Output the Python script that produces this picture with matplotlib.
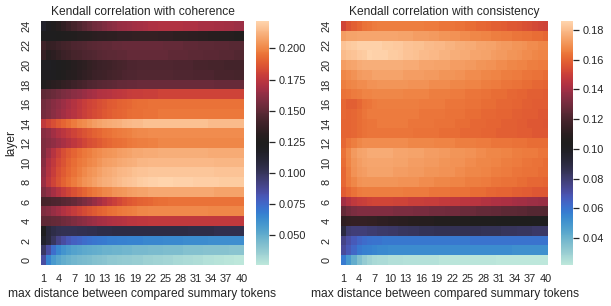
import numpy as np
import pandas as pd
import seaborn as sns
import matplotlib.pyplot as plt

# max distance between compared summary tokens (columns) and layers (rows)
distances = list(range(1, 41))
layers = list(range(25))

# Kendall correlation with coherence, one list per layer (0 -> 24)
coh_0 = [0.085,0.066,0.058,0.053,0.050,0.048,0.046,0.045,0.044,0.043,0.042,0.041,0.040,0.039,0.039,0.038,0.037,0.037,0.036,0.036,0.035,0.035,0.034,0.034,0.033,0.033,0.032,0.032,0.031,0.031,0.030,0.030,0.029,0.029,0.028,0.028,0.027,0.027,0.026,0.026]
coh_1 = [0.098,0.085,0.073,0.065,0.060,0.057,0.055,0.053,0.052,0.051,0.050,0.049,0.048,0.048,0.047,0.047,0.046,0.046,0.045,0.045,0.045,0.044,0.044,0.044,0.043,0.043,0.043,0.043,0.042,0.042,0.042,0.042,0.041,0.041,0.041,0.041,0.041,0.040,0.040,0.040]
coh_2 = [0.115,0.108,0.099,0.091,0.085,0.081,0.078,0.076,0.074,0.072,0.071,0.070,0.069,0.068,0.068,0.067,0.067,0.066,0.066,0.066,0.065,0.065,0.065,0.065,0.064,0.064,0.064,0.064,0.063,0.063,0.063,0.063,0.063,0.062,0.062,0.062,0.062,0.062,0.062,0.062]
coh_3 = [0.123,0.109,0.105,0.103,0.102,0.102,0.102,0.103,0.103,0.104,0.104,0.105,0.105,0.105,0.106,0.106,0.106,0.106,0.106,0.106,0.106,0.106,0.106,0.106,0.106,0.106,0.106,0.106,0.106,0.105,0.105,0.105,0.105,0.105,0.104,0.104,0.104,0.104,0.104,0.104]
coh_4 = [0.150,0.150,0.151,0.152,0.154,0.156,0.158,0.160,0.162,0.164,0.166,0.168,0.169,0.170,0.171,0.172,0.173,0.174,0.174,0.175,0.175,0.176,0.176,0.176,0.176,0.176,0.176,0.176,0.176,0.176,0.176,0.176,0.176,0.176,0.176,0.176,0.176,0.176,0.176,0.176]
coh_5 = [0.158,0.160,0.164,0.167,0.171,0.174,0.177,0.180,0.183,0.186,0.188,0.190,0.192,0.194,0.195,0.196,0.197,0.198,0.199,0.200,0.200,0.201,0.201,0.201,0.201,0.201,0.201,0.201,0.201,0.201,0.201,0.201,0.201,0.200,0.200,0.200,0.200,0.200,0.200,0.200]
coh_6 = [0.142,0.143,0.144,0.145,0.147,0.149,0.151,0.154,0.157,0.160,0.164,0.168,0.172,0.176,0.179,0.182,0.185,0.187,0.189,0.190,0.191,0.192,0.193,0.194,0.194,0.195,0.195,0.195,0.195,0.195,0.195,0.195,0.195,0.195,0.195,0.195,0.195,0.195,0.195,0.195]
coh_7 = [0.158,0.163,0.168,0.173,0.177,0.181,0.185,0.188,0.191,0.194,0.196,0.198,0.200,0.201,0.203,0.204,0.205,0.206,0.207,0.208,0.208,0.209,0.209,0.209,0.209,0.209,0.209,0.209,0.209,0.209,0.209,0.209,0.209,0.209,0.208,0.208,0.208,0.208,0.208,0.208]
coh_8 = [0.165,0.174,0.180,0.186,0.190,0.194,0.197,0.200,0.203,0.205,0.207,0.209,0.211,0.212,0.213,0.215,0.216,0.217,0.218,0.219,0.220,0.221,0.221,0.222,0.222,0.222,0.221,0.221,0.221,0.221,0.220,0.220,0.220,0.220,0.220,0.219,0.219,0.219,0.219,0.219]
coh_9 = [0.163,0.172,0.178,0.184,0.188,0.192,0.195,0.198,0.201,0.203,0.205,0.207,0.209,0.210,0.212,0.213,0.214,0.215,0.216,0.217,0.217,0.218,0.218,0.218,0.218,0.218,0.218,0.218,0.218,0.218,0.218,0.218,0.218,0.218,0.217,0.217,0.217,0.217,0.217,0.217]
coh_10 = [0.160,0.170,0.176,0.182,0.186,0.190,0.193,0.196,0.198,0.200,0.202,0.204,0.206,0.207,0.208,0.209,0.210,0.211,0.212,0.213,0.213,0.214,0.214,0.214,0.214,0.214,0.214,0.214,0.214,0.214,0.214,0.214,0.214,0.214,0.213,0.213,0.213,0.213,0.213,0.213]
coh_11 = [0.158,0.166,0.173,0.179,0.184,0.188,0.191,0.194,0.196,0.198,0.200,0.202,0.203,0.204,0.205,0.206,0.207,0.208,0.209,0.209,0.210,0.210,0.210,0.211,0.211,0.211,0.211,0.211,0.211,0.211,0.211,0.211,0.211,0.210,0.210,0.210,0.210,0.210,0.210,0.210]
coh_12 = [0.158,0.160,0.163,0.166,0.169,0.172,0.175,0.178,0.181,0.184,0.186,0.188,0.190,0.192,0.193,0.194,0.195,0.196,0.197,0.198,0.198,0.199,0.199,0.200,0.200,0.200,0.200,0.200,0.200,0.200,0.200,0.200,0.200,0.200,0.200,0.200,0.200,0.200,0.200,0.200]
coh_13 = [0.160,0.163,0.167,0.171,0.174,0.177,0.180,0.183,0.186,0.188,0.190,0.192,0.194,0.195,0.196,0.197,0.198,0.199,0.200,0.201,0.201,0.202,0.202,0.202,0.202,0.202,0.202,0.202,0.202,0.202,0.202,0.202,0.202,0.202,0.202,0.202,0.202,0.202,0.202,0.202]
coh_14 = [0.176,0.180,0.184,0.188,0.191,0.194,0.197,0.200,0.202,0.204,0.206,0.208,0.209,0.210,0.211,0.212,0.213,0.214,0.215,0.215,0.216,0.216,0.216,0.216,0.216,0.216,0.216,0.216,0.216,0.216,0.216,0.216,0.216,0.215,0.215,0.215,0.215,0.215,0.215,0.215]
coh_15 = [0.156,0.158,0.161,0.164,0.167,0.170,0.173,0.176,0.179,0.181,0.183,0.185,0.187,0.189,0.190,0.191,0.192,0.193,0.194,0.194,0.195,0.195,0.195,0.196,0.196,0.196,0.196,0.196,0.196,0.196,0.196,0.196,0.196,0.196,0.196,0.196,0.196,0.196,0.196,0.196]
coh_16 = [0.155,0.157,0.160,0.163,0.166,0.169,0.172,0.175,0.178,0.180,0.182,0.184,0.186,0.188,0.189,0.190,0.191,0.192,0.193,0.194,0.194,0.195,0.195,0.195,0.195,0.195,0.195,0.195,0.195,0.195,0.195,0.195,0.195,0.195,0.195,0.195,0.195,0.195,0.195,0.195]
coh_17 = [0.150,0.151,0.153,0.155,0.157,0.159,0.161,0.163,0.165,0.167,0.169,0.171,0.172,0.173,0.174,0.175,0.176,0.177,0.178,0.178,0.179,0.179,0.179,0.180,0.180,0.180,0.180,0.180,0.180,0.180,0.180,0.180,0.180,0.180,0.180,0.180,0.180,0.180,0.180,0.180]
coh_18 = [0.127,0.129,0.131,0.133,0.135,0.137,0.139,0.141,0.143,0.145,0.146,0.147,0.148,0.149,0.150,0.151,0.151,0.152,0.152,0.153,0.153,0.153,0.153,0.153,0.153,0.153,0.153,0.153,0.153,0.153,0.153,0.153,0.153,0.153,0.152,0.152,0.152,0.152,0.152,0.152]
coh_19 = [0.121,0.121,0.122,0.124,0.126,0.128,0.130,0.132,0.134,0.136,0.138,0.139,0.140,0.141,0.142,0.143,0.144,0.145,0.145,0.146,0.146,0.146,0.146,0.146,0.146,0.146,0.145,0.145,0.145,0.145,0.144,0.144,0.144,0.144,0.143,0.143,0.143,0.143,0.142,0.142]
coh_20 = [0.120,0.120,0.121,0.123,0.125,0.127,0.129,0.131,0.133,0.135,0.137,0.138,0.139,0.140,0.141,0.142,0.143,0.144,0.144,0.145,0.145,0.145,0.145,0.145,0.145,0.145,0.144,0.144,0.144,0.144,0.143,0.143,0.143,0.142,0.142,0.142,0.141,0.141,0.141,0.141]
coh_21 = [0.136,0.130,0.132,0.135,0.138,0.140,0.142,0.143,0.144,0.145,0.146,0.147,0.148,0.149,0.149,0.150,0.150,0.151,0.151,0.151,0.151,0.151,0.151,0.151,0.151,0.150,0.150,0.150,0.150,0.149,0.149,0.149,0.148,0.148,0.148,0.147,0.147,0.147,0.146,0.146]
coh_22 = [0.140,0.136,0.137,0.139,0.141,0.142,0.144,0.145,0.146,0.147,0.148,0.149,0.150,0.150,0.151,0.151,0.152,0.152,0.152,0.152,0.152,0.152,0.152,0.152,0.151,0.151,0.151,0.151,0.150,0.150,0.150,0.149,0.149,0.149,0.148,0.148,0.148,0.147,0.147,0.147]
coh_23 = [0.123,0.123,0.123,0.124,0.125,0.126,0.127,0.128,0.129,0.130,0.131,0.132,0.132,0.133,0.133,0.134,0.134,0.134,0.135,0.135,0.135,0.135,0.135,0.134,0.134,0.134,0.133,0.133,0.133,0.132,0.132,0.131,0.131,0.130,0.130,0.129,0.129,0.128,0.127,0.127]
coh_24 = [0.115,0.121,0.126,0.130,0.134,0.138,0.142,0.145,0.148,0.151,0.154,0.156,0.158,0.160,0.162,0.164,0.165,0.166,0.167,0.168,0.169,0.170,0.170,0.171,0.171,0.171,0.171,0.171,0.170,0.170,0.170,0.169,0.169,0.169,0.168,0.168,0.167,0.167,0.166,0.166]

# Kendall correlation with consistency, one list per layer (0 -> 24)
con_0 = [0.058,0.049,0.042,0.036,0.031,0.029,0.027,0.026,0.026,0.025,0.025,0.025,0.024,0.024,0.024,0.024,0.024,0.024,0.024,0.023,0.023,0.023,0.023,0.023,0.023,0.023,0.023,0.023,0.023,0.023,0.022,0.022,0.022,0.022,0.022,0.022,0.022,0.022,0.022,0.022]
con_1 = [0.073,0.068,0.063,0.059,0.057,0.056,0.055,0.054,0.054,0.053,0.053,0.053,0.053,0.053,0.053,0.053,0.053,0.053,0.053,0.053,0.053,0.053,0.053,0.053,0.053,0.053,0.053,0.053,0.053,0.053,0.053,0.053,0.053,0.052,0.052,0.052,0.052,0.052,0.052,0.052]
con_2 = [0.076,0.071,0.067,0.064,0.062,0.061,0.060,0.060,0.059,0.059,0.059,0.059,0.059,0.059,0.059,0.059,0.059,0.059,0.059,0.059,0.059,0.059,0.059,0.059,0.059,0.060,0.060,0.060,0.060,0.060,0.060,0.060,0.060,0.060,0.060,0.060,0.060,0.060,0.060,0.060]
con_3 = [0.090,0.080,0.079,0.079,0.079,0.080,0.080,0.081,0.081,0.082,0.082,0.083,0.083,0.084,0.084,0.085,0.085,0.085,0.086,0.086,0.086,0.086,0.086,0.086,0.086,0.086,0.086,0.085,0.085,0.085,0.085,0.084,0.084,0.084,0.083,0.083,0.083,0.082,0.082,0.082]
con_4 = [0.112,0.113,0.114,0.114,0.114,0.113,0.113,0.112,0.112,0.111,0.111,0.110,0.110,0.109,0.109,0.108,0.108,0.108,0.107,0.107,0.107,0.106,0.106,0.106,0.106,0.105,0.105,0.105,0.105,0.105,0.104,0.104,0.104,0.104,0.104,0.104,0.104,0.103,0.103,0.103]
con_5 = [0.127,0.130,0.132,0.133,0.133,0.133,0.133,0.133,0.133,0.133,0.132,0.132,0.132,0.132,0.131,0.131,0.131,0.130,0.130,0.130,0.129,0.129,0.129,0.128,0.128,0.128,0.127,0.127,0.127,0.126,0.126,0.125,0.125,0.125,0.124,0.124,0.123,0.123,0.123,0.122]
con_6 = [0.140,0.144,0.147,0.149,0.150,0.151,0.152,0.152,0.152,0.152,0.151,0.151,0.151,0.150,0.150,0.150,0.149,0.149,0.149,0.148,0.148,0.147,0.147,0.146,0.146,0.145,0.145,0.144,0.144,0.143,0.143,0.142,0.142,0.141,0.140,0.140,0.139,0.139,0.138,0.138]
con_7 = [0.158,0.161,0.163,0.165,0.166,0.166,0.166,0.166,0.166,0.166,0.166,0.166,0.165,0.165,0.165,0.165,0.165,0.164,0.164,0.164,0.164,0.163,0.163,0.163,0.163,0.162,0.162,0.162,0.161,0.161,0.160,0.160,0.160,0.159,0.159,0.158,0.158,0.157,0.157,0.157]
con_8 = [0.161,0.165,0.168,0.170,0.171,0.171,0.171,0.171,0.171,0.171,0.171,0.170,0.170,0.170,0.170,0.169,0.169,0.169,0.168,0.168,0.168,0.167,0.167,0.167,0.166,0.166,0.166,0.165,0.165,0.164,0.164,0.163,0.163,0.163,0.162,0.162,0.161,0.161,0.161,0.160]
con_9 = [0.161,0.166,0.170,0.172,0.173,0.174,0.174,0.174,0.174,0.174,0.173,0.173,0.173,0.172,0.172,0.172,0.171,0.171,0.171,0.170,0.170,0.170,0.169,0.169,0.168,0.168,0.168,0.167,0.167,0.166,0.166,0.165,0.165,0.164,0.164,0.163,0.163,0.163,0.162,0.162]
con_10 = [0.162,0.167,0.171,0.173,0.174,0.175,0.175,0.175,0.175,0.175,0.174,0.174,0.174,0.173,0.173,0.173,0.172,0.172,0.172,0.171,0.171,0.170,0.170,0.170,0.169,0.169,0.168,0.168,0.168,0.167,0.167,0.166,0.166,0.165,0.165,0.164,0.164,0.163,0.163,0.162]
con_11 = [0.163,0.168,0.172,0.174,0.175,0.176,0.176,0.176,0.176,0.176,0.175,0.175,0.175,0.174,0.174,0.174,0.173,0.173,0.173,0.172,0.172,0.171,0.171,0.171,0.170,0.170,0.169,0.169,0.168,0.168,0.168,0.167,0.167,0.166,0.166,0.165,0.165,0.165,0.164,0.164]
con_12 = [0.161,0.164,0.166,0.168,0.169,0.169,0.169,0.169,0.169,0.169,0.169,0.169,0.169,0.168,0.168,0.168,0.168,0.168,0.167,0.167,0.167,0.167,0.166,0.166,0.166,0.166,0.165,0.165,0.165,0.164,0.164,0.164,0.164,0.163,0.163,0.163,0.162,0.162,0.162,0.162]
con_13 = [0.160,0.160,0.161,0.162,0.163,0.164,0.164,0.164,0.164,0.164,0.164,0.164,0.164,0.164,0.163,0.163,0.163,0.163,0.163,0.162,0.162,0.162,0.162,0.161,0.161,0.161,0.161,0.160,0.160,0.160,0.159,0.159,0.159,0.159,0.158,0.158,0.158,0.157,0.157,0.157]
con_14 = [0.160,0.160,0.161,0.162,0.163,0.164,0.164,0.165,0.165,0.165,0.165,0.165,0.165,0.164,0.164,0.164,0.164,0.164,0.163,0.163,0.163,0.163,0.162,0.162,0.162,0.161,0.161,0.161,0.160,0.160,0.160,0.159,0.159,0.159,0.158,0.158,0.157,0.157,0.157,0.156]
con_15 = [0.161,0.160,0.161,0.162,0.164,0.165,0.165,0.165,0.165,0.165,0.165,0.165,0.165,0.165,0.165,0.164,0.164,0.164,0.164,0.164,0.163,0.163,0.163,0.163,0.162,0.162,0.162,0.161,0.161,0.161,0.160,0.160,0.160,0.159,0.159,0.158,0.158,0.158,0.157,0.157]
con_16 = [0.161,0.159,0.159,0.161,0.163,0.164,0.165,0.166,0.166,0.166,0.166,0.166,0.166,0.166,0.166,0.165,0.165,0.165,0.165,0.165,0.164,0.164,0.164,0.164,0.163,0.163,0.163,0.162,0.162,0.162,0.161,0.161,0.161,0.160,0.160,0.159,0.159,0.158,0.158,0.158]
con_17 = [0.163,0.164,0.165,0.166,0.167,0.167,0.168,0.168,0.168,0.168,0.168,0.168,0.167,0.167,0.167,0.167,0.167,0.166,0.166,0.166,0.166,0.165,0.165,0.165,0.164,0.164,0.164,0.163,0.163,0.162,0.162,0.162,0.161,0.161,0.160,0.160,0.159,0.159,0.159,0.158]
con_18 = [0.166,0.167,0.168,0.169,0.169,0.170,0.170,0.171,0.171,0.171,0.171,0.171,0.171,0.170,0.170,0.170,0.170,0.169,0.169,0.169,0.169,0.168,0.168,0.168,0.167,0.167,0.167,0.166,0.166,0.165,0.165,0.164,0.164,0.163,0.163,0.162,0.162,0.161,0.161,0.160]
con_19 = [0.168,0.169,0.170,0.172,0.173,0.173,0.174,0.174,0.174,0.174,0.174,0.174,0.173,0.173,0.173,0.173,0.172,0.172,0.172,0.171,0.171,0.171,0.170,0.170,0.169,0.169,0.169,0.168,0.168,0.167,0.167,0.166,0.166,0.165,0.165,0.164,0.164,0.163,0.163,0.162]
con_20 = [0.173,0.174,0.175,0.176,0.177,0.177,0.177,0.177,0.177,0.177,0.177,0.177,0.176,0.176,0.176,0.175,0.175,0.175,0.174,0.174,0.174,0.173,0.173,0.173,0.172,0.172,0.171,0.171,0.170,0.170,0.169,0.169,0.168,0.168,0.167,0.167,0.166,0.166,0.165,0.165]
con_21 = [0.180,0.181,0.182,0.183,0.184,0.186,0.185,0.185,0.185,0.184,0.184,0.183,0.182,0.182,0.181,0.180,0.180,0.179,0.179,0.178,0.178,0.177,0.177,0.176,0.176,0.175,0.175,0.174,0.174,0.173,0.172,0.172,0.171,0.171,0.170,0.169,0.169,0.168,0.167,0.167]
con_22 = [0.182,0.183,0.184,0.185,0.185,0.185,0.185,0.185,0.184,0.184,0.183,0.183,0.182,0.182,0.181,0.181,0.180,0.180,0.179,0.179,0.178,0.178,0.177,0.177,0.176,0.176,0.175,0.175,0.174,0.174,0.173,0.172,0.172,0.171,0.171,0.170,0.169,0.169,0.168,0.168]
con_23 = [0.173,0.174,0.174,0.175,0.175,0.175,0.175,0.175,0.175,0.175,0.175,0.174,0.174,0.174,0.173,0.173,0.173,0.172,0.172,0.171,0.171,0.170,0.170,0.169,0.169,0.168,0.168,0.167,0.167,0.166,0.166,0.165,0.165,0.164,0.164,0.163,0.163,0.162,0.162,0.161]
con_24 = [0.152,0.156,0.159,0.161,0.163,0.164,0.165,0.166,0.166,0.166,0.166,0.166,0.166,0.166,0.166,0.166,0.165,0.165,0.165,0.164,0.164,0.164,0.163,0.163,0.162,0.162,0.161,0.161,0.160,0.159,0.159,0.158,0.157,0.157,0.156,0.155,0.154,0.153,0.152,0.151]

coherence = pd.DataFrame([coh_0, coh_1, coh_2, coh_3, coh_4, coh_5, coh_6, coh_7, coh_8, coh_9,
                          coh_10, coh_11, coh_12, coh_13, coh_14, coh_15, coh_16, coh_17, coh_18,
                          coh_19, coh_20, coh_21, coh_22, coh_23, coh_24],
                         index=layers, columns=distances)
consistency = pd.DataFrame([con_0, con_1, con_2, con_3, con_4, con_5, con_6, con_7, con_8, con_9,
                            con_10, con_11, con_12, con_13, con_14, con_15, con_16, con_17, con_18,
                            con_19, con_20, con_21, con_22, con_23, con_24],
                           index=layers, columns=distances)

sns.set_theme()
plt.rcParams["font.family"] = ["Liberation Sans", "DejaVu Sans"]

W, H = 611, 306
fig = plt.figure(figsize=(W / 72, H / 72), dpi=72)

def box(x0, y0, x1, y1):
    return [x0 / W, 1 - y1 / H, (x1 - x0) / W, (y1 - y0) / H]

panels = [
    (coherence, "Kendall correlation with coherence", "layer", box(41, 21, 244, 265), box(256, 21, 269, 265)),
    (consistency, "Kendall correlation with consistency", "", box(341, 21, 548, 265), box(561, 21, 573, 265)),
]

for df, title, ylab, pos, cpos in panels:
    ax = fig.add_axes(pos)
    cax = fig.add_axes(cpos)
    sns.heatmap(df, cmap="icefire", ax=ax, cbar_ax=cax, xticklabels=3, yticklabels=2)
    ax.invert_yaxis()
    ax.set_title(title, fontsize=12)
    ax.set_xlabel("max distance between compared summary tokens")
    ax.set_ylabel(ylab)
    plt.setp(ax.get_xticklabels(), rotation=0)

fig.savefig("out.png", dpi=72)
